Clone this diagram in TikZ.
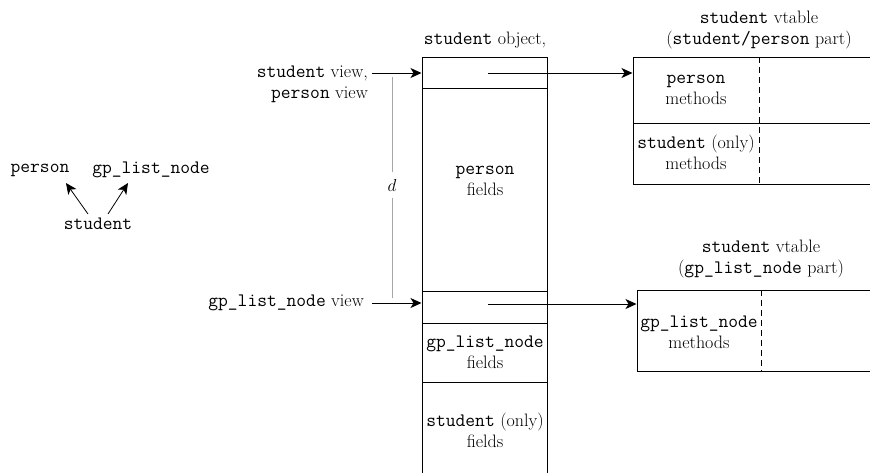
\documentclass[tikz,border=0pt]{standalone}
\usepackage{fontspec}
\usetikzlibrary{arrows.meta,calc}
\newcommand\mt[1]{{\fontsize{19}{21}\selectfont\ttfamily #1}}
\begin{document}
\begin{tikzpicture}[x=1pt,y=-1pt,
  font=\fontsize{18}{21}\selectfont,
  cell/.style={draw,line width=1pt,inner sep=0pt,minimum width=125pt},
  vcell/.style={draw,line width=1pt,inner sep=0pt,minimum width=267pt},
  lbl/.style={inner sep=0pt,align=center},
  arr/.style={line width=1pt,-{Stealth[length=11pt,width=10pt,inset=3pt]}},
  dline/.style={draw=gray!70,line width=0.8pt}]
\useasboundingbox (0,0) rectangle (870,472);
\clip (0,0) rectangle (870,472);
% left inheritance graph
\node[lbl] (person) at (40,170) {\mt{person}};
\node[lbl] (gpl) at (151,170) {\mt{gp\_list\_node}};
\node[lbl] (student) at (98,224) {\mt{student}};
\draw[arr,line width=0.8pt] ($(student.center)+(-10,-10)$) -- ($(person.center)+(26,13)$);
\draw[arr,line width=0.8pt] ($(student.center)+(10,-10)$) -- ($(gpl.center)+(-23,13)$);
% object
\node[lbl] (objt) at (485,40) {\mt{student} object,};
\node[cell,minimum height=31pt] (o1) at (484.5,72.5) {};
\node[cell,minimum height=203pt] (o2) at (484.5,189.5) {};
\node[cell,minimum height=32pt] (o3) at (484.5,307) {};
\node[cell,minimum height=59pt] (o4) at (484.5,352.5) {};
\node[cell,minimum height=118pt] (o5) at (484.5,441) {};
\node[lbl] (o2t) at (485,181) {\mt{person}\\fields};
\node[lbl] (o4t) at (485,352) {\mt{gp\_list\_node}\\fields};
\node[lbl] (o5t) at (485,430) {\mt{student} (only)\\fields};
% vtable 1
\node[lbl] (v1t) at (759,30) {\mt{student} vtable\\(\mt{student/person} part)};
\node[vcell,minimum height=66pt] (v1a) at (766.5,90) {};
\node[vcell,minimum height=61pt] (v1b) at (766.5,153.5) {};
\draw[line width=1pt,dash pattern=on 6pt off 4pt] (759,57) -- (759,184);
\node[lbl] (v1at) at (696,90) {\mt{person}\\methods};
\node[lbl] (v1bt) at (696,152) {\mt{student} (only)\\methods};
% vtable 2
\node[lbl] (v2t) at (761,259) {\mt{student} vtable\\(\mt{gp\_list\_node} part)};
\node[vcell,minimum height=81pt] (v2) at (770.5,330.5) {};
\draw[line width=1pt,dash pattern=on 6pt off 4pt] (761,290) -- (761,371);
\node[lbl] (v2tt) at (699,332) {\mt{gp\_list\_node}\\methods};
% pointers
\coordinate (p1) at (488,73);
\coordinate (p2) at (488,304);
\draw[arr] (p1) -- (p1 -| v1a.west);
\draw[arr] (p2) -- (p2 -| v2.west);
% view labels
\node[lbl,anchor=east,align=right] (sv) at (368,84) {\mt{student} view,\\\mt{person} view};
\node[lbl,anchor=east] (gv) at (364,303) {\mt{gp\_list\_node} view};
\coordinate (a1) at (372,73);
\coordinate (a2) at (372,303);
\draw[arr] (a1) -- (a1 -| o1.west);
\draw[arr] (a2) -- (a2 -| o3.west);
% d
\node[inner sep=0pt,minimum height=26pt] (d) at (392,185) {$d$};
\coordinate (d1) at (392,77);
\coordinate (d2) at (392,298);
\draw[dline] (d1) -- (d.north);
\draw[dline] (d.south) -- (d2);
\end{tikzpicture}
\end{document}
